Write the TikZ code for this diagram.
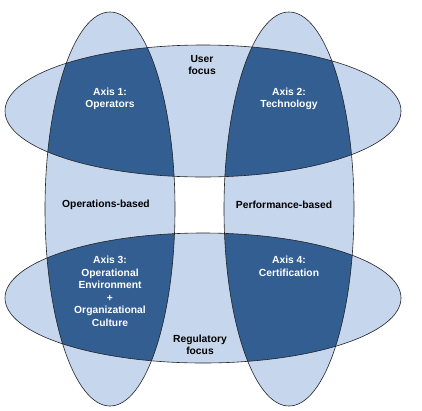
\documentclass[tikz,border=0pt]{standalone}
\usepackage{fontspec}
\setmainfont{Liberation Sans}
\definecolor{lightblue}{RGB}{198,214,236}
\definecolor{darkblue}{RGB}{51,94,145}
\definecolor{edgecol}{RGB}{35,35,40}
\begin{document}
\begin{tikzpicture}[x=1pt,y=-1pt,
  lbl/.style={font=\fontsize{10.3}{12.5}\selectfont\bfseries, align=center, inner sep=0pt, text=black},
  axislbl/.style={lbl, text=white},
  outline/.style={draw=edgecol, line width=0.6pt}]
\useasboundingbox (0,0) rectangle (422,410);
\fill[white] (0,0) rectangle (422,410);
% light fills
\fill[lightblue] (110,209) ellipse [x radius=65, y radius=197];
\fill[lightblue] (289,209) ellipse [x radius=65, y radius=197];
\fill[lightblue] (203,111) ellipse [x radius=198, y radius=66];
\fill[lightblue] (203,298) ellipse [x radius=198, y radius=65];
% dark intersections
\begin{scope}
  \clip (110,209) ellipse [x radius=65, y radius=197];
  \fill[darkblue] (203,111) ellipse [x radius=198, y radius=66];
  \fill[darkblue] (203,298) ellipse [x radius=198, y radius=65];
\end{scope}
\begin{scope}
  \clip (289,209) ellipse [x radius=65, y radius=197];
  \fill[darkblue] (203,111) ellipse [x radius=198, y radius=66];
  \fill[darkblue] (203,298) ellipse [x radius=198, y radius=65];
\end{scope}
% outlines
\draw[outline] (110,209) ellipse [x radius=65, y radius=197];
\draw[outline] (289,209) ellipse [x radius=65, y radius=197];
\draw[outline] (203,111) ellipse [x radius=198, y radius=66];
\draw[outline] (203,298) ellipse [x radius=198, y radius=65];
% labels
\node[axislbl] (a1) at (110,99) {Axis 1:\\Operators};
\node[axislbl] (a2) at (289,99) {Axis 2:\\Technology};
\node[axislbl] (a3) at (110,291.5) {Axis 3:\\Operational\\Environment\\+\\Organizational\\Culture};
\node[axislbl] (a4) at (289,266.5) {Axis 4:\\Certification};
\node[lbl] (user) at (202,65) {User\\focus};
\node[lbl] (reg) at (200,345) {Regulatory\\focus};
\node[lbl] (ops) at (106,205) {Operations-based};
\node[lbl] (perf) at (284,205) {Performance-based};
\end{tikzpicture}
\end{document}
